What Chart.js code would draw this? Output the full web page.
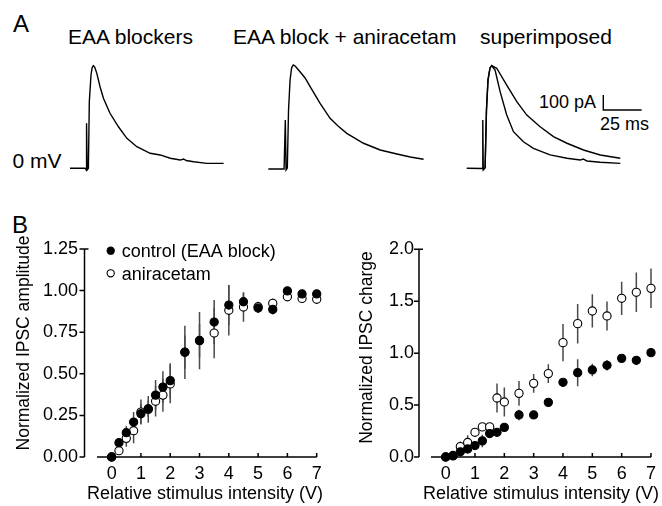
<!DOCTYPE html>
<html>
<head>
<meta charset="utf-8">
<script src="https://cdn.jsdelivr.net/npm/chart.js@4.4.1/dist/chart.umd.min.js"></script>
<style>
  html, body { margin: 0; padding: 0; background: #fff; }
  body { width: 662px; height: 506px; position: relative; overflow: hidden;
         font-family: "Liberation Sans", Arial, Helvetica, sans-serif; color: #000; }
  canvas, .lbl { position: absolute; }
  .lbl { white-space: nowrap; line-height: 1; }
</style>
</head>
<body>
<div class="lbl" style="left:13px;top:11.7px;font-size:24px">A</div>
<div class="lbl" style="left:68px;top:26px;font-size:21px">EAA blockers</div>
<div class="lbl" style="left:233px;top:26px;font-size:21px">EAA block + aniracetam</div>
<div class="lbl" style="left:480px;top:26px;font-size:21px">superimposed</div>
<div class="lbl" style="left:12.5px;top:150.2px;font-size:21px">0 mV</div>
<div class="lbl" style="left:539px;top:92.8px;font-size:18px">100 pA</div>
<div class="lbl" style="left:600px;top:114.8px;font-size:18px">25 ms</div>
<div class="lbl" style="left:12px;top:212.7px;font-size:24px">B</div>

<canvas id="trBlock"></canvas>
<canvas id="trAni"></canvas>
<canvas id="trSup"></canvas>
<canvas id="ampChart"></canvas>
<canvas id="chgChart"></canvas>

<script>
const FONT = '"Liberation Sans", Arial, Helvetica, sans-serif';
Chart.defaults.font.family = FONT;
Chart.defaults.font.size = 18;
Chart.defaults.color = '#000';

// ---- Panel A: IPSC traces, time (ms) vs current (pA) ----
const blockT = [0, 9.8, 10.7, 10.8, 11.2, 12.0, 12.6, 13.7, 14.4, 15.2, 16.1, 17.5, 19.6, 21.8, 26.1, 31.6, 37.1, 43.6, 52.3, 58.8, 65.4, 71.9, 74.1, 75.8, 80.6, 89.3, 100.2];
const blockI = [0, 0, -11, 300, -11, 0, 444, 622, 669, 684, 675, 633, 544, 467, 367, 277, 200, 144, 100, 89, 67, 55, 62, 52, 44, 33, 33];

const aniT = [0, 10.3, 11.1, 11.6, 12.4, 13.2, 14.2, 15.2, 16.3, 17.5, 20.7, 24.0, 27.3, 33.8, 40.3, 45.5, 51.2, 62.1, 73.0, 83.9, 92.6, 101.3];
const aniI = [-5, -5, 322, -11, 2, 389, 589, 669, 689, 682, 644, 602, 544, 433, 333, 282, 233, 167, 122, 95, 75, 60];

const supCtrlT = [0, 10, 10.5, 10.8, 12.0, 12.9, 13.9, 15.2, 16.3, 18.5, 21.8, 26.1, 30.5, 37.0, 43.5, 54.4, 65.4, 74.1, 76.0, 78.4, 87.1, 100.2];
const supCtrlI = [0, -1, 322, -11, 2, 389, 589, 669, 684, 655, 511, 355, 244, 177, 133, 89, 67, 55, 62, 49, 40, 33];
const supAniT = [12.0, 12.9, 13.9, 15.2, 16.3, 19.6, 26.1, 32.7, 39.2, 47.9, 56.6, 65.4, 76.2, 87.1, 100.2];
const supAniI = [2, 389, 589, 669, 684, 667, 555, 444, 355, 277, 211, 167, 122, 89, 67];

const barPA = 100;   // scale bar
const barMS = 25;

// ---- Panel B: stimulus series ----
const stim = [0, 0.25, 0.5, 0.75, 1, 1.25, 1.5, 1.75, 2, 2.5, 3, 3.5, 4, 4.5, 5, 5.5, 6, 6.5, 7];
const stimTicks = [0, 1, 2, 3, 4, 5, 6, 7];

const ampCtrl    = [0, 0.086, 0.146, 0.21, 0.26, 0.29, 0.372, 0.42, 0.459, 0.63, 0.70, 0.811, 0.913, 0.933, 0.895, 0.887, 0.998, 0.98, 0.98];
const ampCtrlErr = [0, 0.02, 0.04, 0.06, 0.06, 0.05, 0.09, 0.096, 0.104, 0.1, 0.1, 0.132, 0.12, 0.056, 0.03, 0.03, 0.02, 0.02, 0.02];
const ampAni     = [0, 0.038, 0.112, 0.158, 0.27, 0.286, 0.335, 0.372, 0.439, 0.629, 0.699, 0.745, 0.882, 0.901, 0.903, 0.923, 0.963, 0.953, 0.948];
const ampAniErr  = [0, 0.02, 0.05, 0.075, 0.075, 0.08, 0.092, 0.1, 0.116, 0.16, 0.172, 0.152, 0.152, 0.088, 0.03, 0.03, 0.02, 0.02, 0.02];
const ampTicks = [0, 0.25, 0.5, 0.75, 1.0, 1.25];

const chgCtrl    = [0, 0.01, 0.05, 0.077, 0.11, 0.155, 0.226, 0.238, 0.285, 0.405, 0.405, 0.526, 0.719, 0.812, 0.838, 0.883, 0.95, 0.931, 1.005];
const chgCtrlErr = [0, 0, 0.02, 0.03, 0.03, 0.06, 0.03, 0.02, 0.02, 0.05, 0.03, 0.02, 0.02, 0.13, 0.06, 0.05, 0.02, 0.02, 0.02];
const chgAni     = [0, 0.015, 0.10, 0.14, 0.238, 0.29, 0.29, 0.568, 0.53, 0.613, 0.709, 0.803, 1.101, 1.284, 1.406, 1.358, 1.528, 1.586, 1.624];
const chgAniErr  = [0.02, 0.02, 0.05, 0.07, 0.03, 0.03, 0.03, 0.14, 0.14, 0.12, 0.09, 0.09, 0.18, 0.19, 0.16, 0.14, 0.16, 0.19, 0.19];
const chgTicks = [0, 0.5, 1.0, 1.5, 2.0];

// ---- traces ----
const PX_MS = 1.533, PX_PA = 0.15;

function pts(t, v) { return t.map((x, i) => ({ x: x, y: v[i] })); }

function traceChart(id, left, top, w, h, x0, y0, sets, extra) {
  const cv = document.getElementById(id);
  cv.width = w; cv.height = h;
  cv.style.left = left + 'px'; cv.style.top = top + 'px';
  return new Chart(cv, {
    type: 'line',
    data: {
      datasets: sets.map(d => ({
        data: d, borderColor: '#000', borderWidth: 1.4, pointRadius: 0,
        tension: 0, fill: false, clip: false
      }))
    },
    options: {
      responsive: false, animation: false, events: [],
      layout: { padding: 0 },
      plugins: { legend: { display: false }, tooltip: { enabled: false } },
      scales: {
        x: { type: 'linear', display: false, min: (left - x0) / PX_MS, max: (left + w - x0) / PX_MS },
        y: { type: 'linear', display: false, min: (y0 - top - h) / PX_PA, max: (y0 - top) / PX_PA }
      }
    },
    plugins: extra ? [extra] : []
  });
}

const scaleBar = {
  id: 'scaleBar',
  afterDraw(c) {
    const x = c.scales.x, y = c.scales.y, ctx = c.ctx;
    const t0 = 89.1, i0 = 388.7;
    ctx.save();
    ctx.strokeStyle = '#000'; ctx.lineWidth = 1.4;
    ctx.beginPath();
    ctx.moveTo(x.getPixelForValue(t0), y.getPixelForValue(i0 + barPA));
    ctx.lineTo(x.getPixelForValue(t0), y.getPixelForValue(i0));
    ctx.lineTo(x.getPixelForValue(t0 + barMS), y.getPixelForValue(i0));
    ctx.stroke();
    ctx.restore();
  }
};

traceChart('trBlock', 62, 55, 170, 125, 70, 168.3, [pts(blockT, blockI)]);
traceChart('trAni', 262, 55, 170, 125, 268.3, 168.3, [pts(aniT, aniI)]);
traceChart('trSup', 460, 55, 190, 125, 466.7, 168.3, [pts(supCtrlT, supCtrlI), pts(supAniT, supAniI)], scaleBar);

// ---- dose-response panels ----
function framePlugin(o) {
  return {
    id: 'frame',
    beforeDatasetsDraw(c) {
      const ctx = c.ctx, a = c.chartArea, x = c.scales.x, y = c.scales.y;
      ctx.save();
      ctx.strokeStyle = '#000'; ctx.lineWidth = 1.5;
      ctx.beginPath();
      ctx.moveTo(o.axisX, y.getPixelForValue(y.max)); ctx.lineTo(o.axisX, y.getPixelForValue(y.min));
      y.ticks.forEach(t => {
        const p = y.getPixelForValue(t.value);
        ctx.moveTo(o.axisX - 5, p); ctx.lineTo(o.axisX, p);
      });
      ctx.moveTo(o.axisX, y.getPixelForValue(y.max)); ctx.lineTo(o.axisX + 4, y.getPixelForValue(y.max));
      ctx.moveTo(a.left, a.bottom); ctx.lineTo(a.right, a.bottom);
      x.ticks.forEach(t => {
        const p = x.getPixelForValue(t.value);
        ctx.moveTo(p, a.bottom); ctx.lineTo(p, a.bottom - 4);
      });
      ctx.stroke();

      // error bars
      ctx.strokeStyle = '#4a4a4a'; ctx.lineWidth = 1.5;
      c.data.datasets.forEach(ds => {
        ctx.beginPath();
        ds.data.forEach((p, i) => {
          const e = ds.errs[i];
          if (!e) return;
          const px = x.getPixelForValue(p.x);
          ctx.moveTo(px, y.getPixelForValue(p.y - e));
          ctx.lineTo(px, y.getPixelForValue(p.y + e));
        });
        ctx.stroke();
      });
      ctx.restore();
    },
    afterDraw(c) {
      const ctx = c.ctx;
      ctx.save();
      ctx.fillStyle = '#000';
      ctx.font = '18px ' + FONT;
      ctx.textAlign = 'center'; ctx.textBaseline = 'alphabetic';
      ctx.fillText('Relative stimulus intensity (V)', o.xTitleX, o.xTitleY);
      ctx.font = '17.5px ' + FONT;
      ctx.translate(o.yTitleX, o.yTitleY);
      ctx.rotate(-Math.PI / 2);
      ctx.textBaseline = 'middle';
      ctx.fillText(o.yTitle, 0, 0);
      ctx.restore();
      if (o.legend) {
        ctx.save();
        ctx.font = '18px ' + FONT;
        ctx.textAlign = 'left'; ctx.textBaseline = 'alphabetic';
        c.data.datasets.forEach((ds, i) => {
          const cy = o.legend.y + i * o.legend.gap;
          ctx.beginPath();
          ctx.arc(o.legend.x, cy, 3.6, 0, Math.PI * 2);
          ctx.fillStyle = ds.backgroundColor; ctx.fill();
          ctx.lineWidth = 1.1; ctx.strokeStyle = '#000'; ctx.stroke();
          ctx.fillStyle = '#000';
          ctx.fillText(ds.label, o.legend.x + 11, cy + 6.3);
        });
        ctx.restore();
      }
    }
  };
}

function doseChart(id, left, top, w, h, area, ymax, yTicks, dec, series, o) {
  const cv = document.getElementById(id);
  cv.width = w; cv.height = h;
  cv.style.left = left + 'px'; cv.style.top = top + 'px';
  const tickFont = { family: FONT, size: 18 };
  return new Chart(cv, {
    type: 'scatter',
    data: {
      datasets: series.map(s => ({
        label: s.label,
        data: pts(stim, s.v),
        errs: s.err,
        backgroundColor: s.fill, borderColor: '#000', borderWidth: 1.1,
        pointRadius: 4.1, pointHoverRadius: 4.1, clip: false
      }))
    },
    options: {
      responsive: false, animation: false, events: [],
      layout: { padding: { left: 0, top: area.top, right: w - area.right, bottom: 0 } },
      plugins: { legend: { display: false }, tooltip: { enabled: false } },
      scales: {
        x: {
          type: 'linear', min: -0.5, max: 7,
          grid: { display: false, drawTicks: false }, border: { display: false },
          afterBuildTicks: s => { s.ticks = stimTicks.map(v => ({ value: v })); },
          afterFit: s => { s.height = h - area.bottom; },
          ticks: { color: '#000', padding: 6, font: tickFont, callback: v => String(v) }
        },
        y: {
          type: 'linear', min: 0, max: ymax,
          grid: { display: false, drawTicks: false }, border: { display: false },
          afterBuildTicks: s => { s.ticks = yTicks.map(v => ({ value: v })); },
          afterFit: s => { s.width = area.left; },
          ticks: { color: '#000', padding: o.tickPad, font: tickFont, callback: v => v.toFixed(dec) }
        }
      }
    },
    plugins: [framePlugin(o)]
  });
}

doseChart('ampChart', 0, 200, 335, 306, { left: 97, right: 316.7, top: 49, bottom: 257 }, 1.25, ampTicks, 2, [
  { label: 'control (EAA block)', v: ampCtrl, err: ampCtrlErr, fill: '#000' },
  { label: 'aniracetam', v: ampAni, err: ampAniErr, fill: '#fff' }
], { axisX: 84.5, tickPad: 19, yTitle: 'Normalized IPSC amplitude', yTitleX: 24, yTitleY: 143,
     xTitleX: 205, xTitleY: 299, legend: { x: 110.7, y: 50.7, gap: 22.6 } });

doseChart('chgChart', 330, 200, 332, 306, { left: 101, right: 321.7, top: 49.3, bottom: 257 }, 2, chgTicks, 1, [
  { label: 'control (EAA block)', v: chgCtrl, err: chgCtrlErr, fill: '#000' },
  { label: 'aniracetam', v: chgAni, err: chgAniErr, fill: '#fff' }
], { axisX: 89, tickPad: 17, yTitle: 'Normalized IPSC charge', yTitleX: 37, yTitleY: 147.5,
     xTitleX: 211, xTitleY: 299 });
</script>
</body>
</html>
